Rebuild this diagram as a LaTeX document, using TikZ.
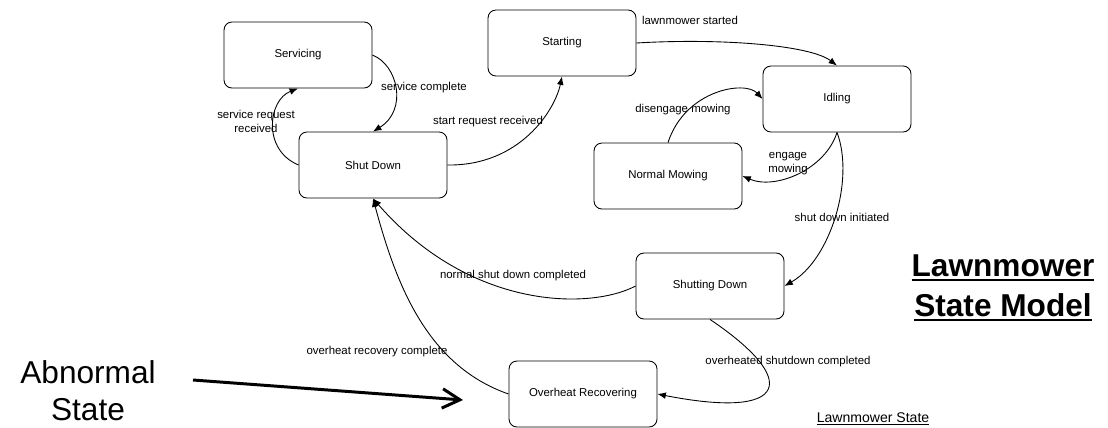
\documentclass[tikz,border=0pt]{standalone}
\usepackage{fontspec}
\setmainfont{Liberation Sans}
\usetikzlibrary{arrows.meta}

\newcommand{\ttlul}[1]{\setbox0\hbox{#1}\rlap{\rule[-2.8pt]{\wd0}{1.1pt}}\box0}

\begin{document}
\begin{tikzpicture}[x=0.02cm, y=-0.02cm, line width=0.5pt,
    >={Latex[length=4.8pt,width=3.8pt]},
    state/.style={draw, rounded corners=4.5pt, minimum width=2.96cm, minimum height=1.32cm, font=\fontsize{6.5}{8}\selectfont},
    lbl/.style={font=\fontsize{6.5}{8}\selectfont, align=center, inner sep=0pt},
    ttl/.style={font=\fontsize{18}{22}\selectfont\bfseries, inner sep=0pt, anchor=base},
    big/.style={font=\fontsize{18}{22}\selectfont, inner sep=0pt, anchor=base}]
    \useasboundingbox (0,0) rectangle (1108,427);

    \foreach \n/\x/\y/\t in {srv/298/55/Servicing, sd/373/165/Shut Down, st/562/43/Starting, idl/837/99/Idling, nm/668/176/Normal Mowing, sdn/710/286/Shutting Down, ovr/583/394/Overheat Recovering} {
        \node[state] (\n) at (\x,\y) {\t};
    }

    \draw[->] (sd.west) .. controls (262,150) and (268,100) .. (srv.south);
    \draw[->] (srv.east) .. controls (398,65) and (408,110) .. (sd.north);
    \draw[->] (sd.east) .. controls (520,166) and (555,110) .. (st.south);
    \draw[->] (st.east) .. controls (720,38) and (810,45) .. (idl.north);
    \draw[->] (nm.north) .. controls (685,90) and (745,80) .. (idl.west);
    \draw[->] (idl.south) .. controls (825,170) and (775,190) .. (nm.east);
    \draw[->] (idl.south) .. controls (855,180) and (830,260) .. (sdn.east);
    \draw[->] (sdn.west) .. controls (590,310) and (470,310) .. (sd.south);
    \draw[->] (sdn.south) .. controls (800,380) and (790,420) .. (ovr.east);
    \draw[->] (ovr.west) .. controls (425,365) and (395,280) .. (sd.south);

    \foreach \n/\x/\y/\t in {lsr/256/121/{service request\\received}, lsc/424/88/service complete, lsrr/488/122/start request received, lls/690/20/lawnmower started, ldm/683/110/disengage mowing, lem/788/164/{engage\\mowing}, lsdi/842/217/shut down initiated, lnsd/513/276/normal shut down completed, lohs/788/362/overheated shutdown completed, lorc/377/352/overheat recovery complete} {
        \node[lbl] (\n) at (\x,\y) {\t};
    }

    \node[ttl] (ttl1) at (1003,276) {\ttlul{Lawnmower}};
    \node[ttl] (ttl2) at (1003,316) {\ttlul{State Model}};
    \node[lbl, font=\fontsize{8}{9}\selectfont, anchor=base] (lms) at (873,422) {\underline{Lawnmower State}};

    \node[big] (abn1) at (88,383) {Abnormal};
    \node[big] (abn2) at (88,420) {State};
    \coordinate (abnS) at (193,380);
    \coordinate (abnE) at (463,400);
    \draw[line width=1.7pt, -{Straight Barb[length=10pt,width=11pt]}] (abnS) -- (abnE);
\end{tikzpicture}
\end{document}
